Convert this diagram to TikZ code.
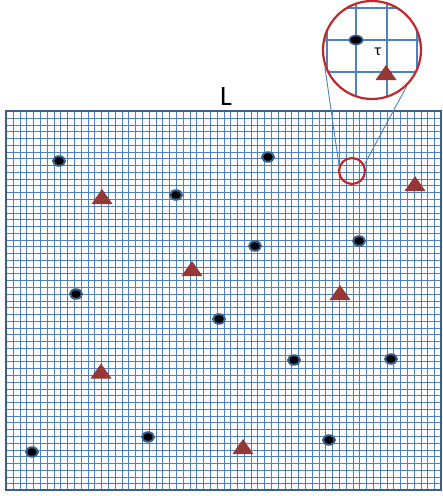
\documentclass[tikz,border=0pt]{standalone}
\usepackage{fontspec}
\setmainfont{Carlito}
\usepackage{tikz}
\usetikzlibrary{shapes.geometric}
\definecolor{GridBlue}{HTML}{4F81BD}
\definecolor{FrameBlue}{HTML}{3A5F8E}
\definecolor{ChargeRed}{HTML}{953735}
\definecolor{LensRed}{HTML}{C0282D}

\begin{document}
\begin{tikzpicture}[
    x=1pt, y=-1pt,
    gridline/.style={draw=GridBlue, line width=1.1pt},
    frame/.style={draw=FrameBlue, line width=2.5pt},
    dot/.style={ellipse, draw=FrameBlue, fill=black, line width=2pt,
      minimum width=12pt, minimum height=9.5pt, inner sep=0pt},
    ring/.style={circle, draw=LensRed, line width=2.2pt, inner sep=0pt},
    leader/.style={draw=GridBlue, line width=0.9pt},
    tri/.pic={\fill[ChargeRed] (-10.5,7.5) -- (10.5,7.5) -- (0,-7.5) -- cycle;}
  ]
    \useasboundingbox (0,0) rectangle (443,496);
    % lattice
    \foreach \i [evaluate=\i as \gx using {round(6+\i*6.797)+0.5}] in {1,...,63}
      \draw[gridline] (\gx,111) -- (\gx,490);
    \foreach \j [evaluate=\j as \gy using {round(111+\j*6.77)+0.5}] in {1,...,55}
      \draw[gridline] (6,\gy) -- (441,\gy);
    \draw[frame] (6,111) rectangle (441,490);
    \node[font=\fontsize{28}{30}\selectfont, inner sep=0pt] (len) at (226,97) {L};
    % particles
    \node[dot] (p1) at (59,161) {};
    \node[dot] (p2) at (268,157) {};
    \node[dot] (p3) at (176,195) {};
    \node[dot] (p4) at (255,246) {};
    \node[dot] (p5) at (359,241) {};
    \node[dot] (p6) at (76,294) {};
    \node[dot] (p7) at (219,319) {};
    \node[dot] (p8) at (294,360) {};
    \node[dot] (p9) at (391,359) {};
    \node[dot] (p10) at (148,437) {};
    \node[dot] (p11) at (329,440) {};
    \node[dot] (p12) at (32,452) {};
    \pic at (102,196.5) {tri};
    \pic at (415,183.5) {tri};
    \pic at (192,268.5) {tri};
    \pic at (340,292.5) {tri};
    \pic at (101,371) {tri};
    \pic at (243,446.5) {tri};
    % magnifier
    \node[ring, minimum size=26pt] (spot) at (352,171) {};
    \node[ring, minimum size=98pt, draw=none, fill=white] (lens) at (372,50) {};
    \draw[leader] (spot.157) -- (lens.200);
    \draw[leader] (spot.28) -- (lens.314);
    \begin{scope}
      \clip (372,50) circle (49);
      \foreach \x in {327,356,387,417}
        \draw[gridline, line width=2pt] (\x,0) -- (\x,100);
      \foreach \y in {8,40,72}
        \draw[gridline, line width=2pt] (320,\y) -- (425,\y);
    \end{scope}
    \node[dot, minimum width=13pt, minimum height=9pt, line width=1.6pt] (q1) at (356,40) {};
    \node[font=\fontsize{16}{18}\selectfont, inner sep=0pt] (tau) at (378,52) {τ};
    \pic at (386,72.5) {tri};
    \node[ring, minimum size=98pt] at (lens) {};
  \end{tikzpicture}
\end{document}
